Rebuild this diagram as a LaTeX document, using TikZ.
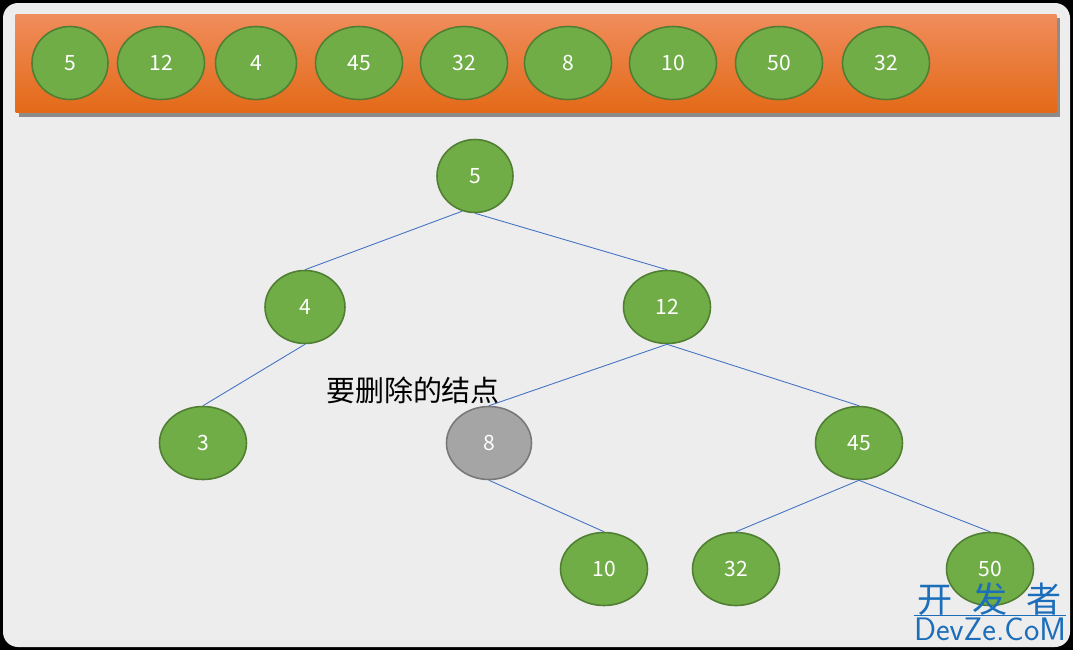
\documentclass[tikz,border=0pt]{standalone}
\usepackage{fontspec}
\newfontfamily\cjk{Noto Sans CJK SC}
\usetikzlibrary{positioning,shapes.geometric,shadows}

\definecolor{panelgray}{HTML}{EDEDED}
\definecolor{nodegreen}{HTML}{70AD47}
\definecolor{nodeline}{HTML}{507E32}
\definecolor{delgray}{HTML}{A5A5A5}
\definecolor{delline}{HTML}{787878}
\definecolor{edgeblue}{HTML}{4472C4}
\definecolor{wmblue}{HTML}{1C6EBA}
\definecolor{bartop}{HTML}{F08C5C}
\definecolor{barmid}{HTML}{F47B28}
\definecolor{barbot}{HTML}{E36A17}

\begin{document}
\begin{tikzpicture}[
        x=0.02cm, y=-0.02cm,
        elem/.style={ellipse, draw=nodeline, line width=0.9pt, fill=nodegreen, inner sep=0pt,
                     minimum width=1.74cm, minimum height=1.46cm, text=white, font=\cjk\fontsize{12}{14}\selectfont},
        narrow/.style={minimum width=1.52cm},
        delnode/.style={elem, fill=delgray, draw=delline, minimum width=1.7cm},
        edge/.style={edgeblue, line width=0.5pt}
      ]

      % Background
      \fill[black] (0,0) rectangle (1073,650);
      \useasboundingbox (0,0) rectangle (1073,650);
      \fill[panelgray, rounded corners=0.3cm] (3,3) rectangle (1070,647);

      % Array bar
      \node[rectangle, minimum width=20.82cm, minimum height=1.98cm, inner sep=0pt,
            top color=bartop, middle color=barmid, bottom color=barbot,
            drop shadow={opacity=0.6, fill=black!70, shadow xshift=0.07cm, shadow yshift=-0.08cm}] (bar) at (536,63.5) {};
      \node[elem, narrow] (a1) at (70,63) {5};
      \node[elem] (a2) at (161,63) {12};
      \node[elem, minimum width=1.62cm] (a3) at (256,63) {4};
      \node[elem] (a4) at (359,63) {45};
      \node[elem] (a5) at (464,63) {32};
      \node[elem] (a6) at (568,63) {8};
      \node[elem] (a7) at (673,63) {10};
      \node[elem] (a8) at (779,63) {50};
      \node[elem] (a9) at (886,63) {32};

      % Tree
      \node[elem, narrow] (t5) at (475,176) {5};
      \node[elem, minimum width=1.6cm] (t4) at (305,307) {4};
      \node[elem] (t12) at (667,307) {12};
      \node[elem] (t3) at (203,443) {3};
      \node[delnode] (t8) at (489,443) {8};
      \node[elem] (t45) at (859,443) {45};
      \node[elem] (t10) at (604,569) {10};
      \node[elem] (t32) at (736,569) {32};
      \node[elem] (t50) at (990,569) {50};

      % Connections
      \draw[edge] (t5.-110) -- (t4.north);
      \draw[edge] (t5.south) -- (t12.north);
      \draw[edge] (t4.south) -- (t3.north);
      \draw[edge] (t12.south) -- (t8.north);
      \draw[edge] (t12.south) -- (t45.north);
      \draw[edge] (t8.south) -- (t10.north);
      \draw[edge] (t45.south) -- (t32.north);
      \draw[edge] (t45.south) -- (t50.north);

      % Label
      \node[font=\cjk\fontsize{16.5}{18}\selectfont] (dellabel) at (413,390) {要删除的结点};

      % Watermark
      \node[text=wmblue, font=\cjk\fontsize{20}{22}\selectfont, inner sep=0pt] (wm1) at (990,599) {开\hspace{0.55em}发\hspace{0.55em}者};
      \node[text=wmblue, font=\sffamily\fontsize{18.5}{20}\selectfont, inner sep=0pt] (wm2) at (990,629) {DevZe.CoM};
      \draw[wmblue, line width=0.4pt] ([yshift=1pt]wm2.north west) -- ([yshift=1pt]wm2.north east);

    \end{tikzpicture}
\end{document}
